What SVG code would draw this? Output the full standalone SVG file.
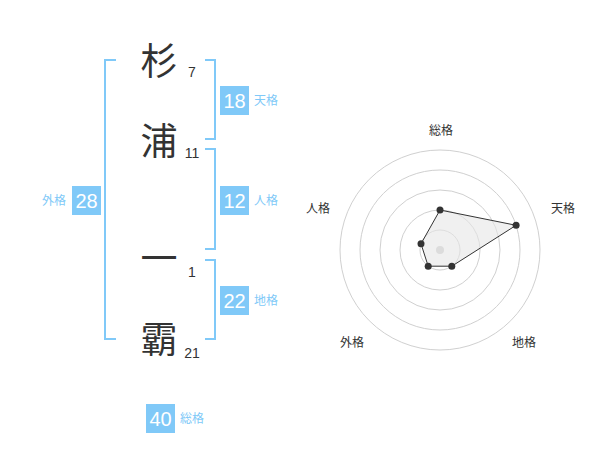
<svg xmlns="http://www.w3.org/2000/svg" width="600" height="470" viewBox="0 0 600 470">
<style>
.ch{font-family:"Noto Sans CJK JP","Noto Sans CJK SC",sans-serif;font-size:37px;fill:#333;text-anchor:middle}
.st{font-family:"Liberation Sans","Noto Sans",sans-serif;font-size:14px;fill:#333;text-anchor:middle}
.bx{fill:#80c9f8}
.bn{font-family:"Liberation Sans","Noto Sans",sans-serif;font-size:20px;fill:#fff;text-anchor:middle}
.bl{font-family:"Noto Sans CJK JP",sans-serif;font-size:12px;fill:#80c9f8}
.br{fill:none;stroke:#80c9f8;stroke-width:2}
.rg{fill:none;stroke:#d0d0d0;stroke-width:1}
.rl{font-family:"Noto Sans CJK JP",sans-serif;font-size:12px;fill:#333;text-anchor:middle}
.pt{fill:#333}
</style>
<rect width="600" height="470" fill="#fff"/>
<g id="connectors">
<path class="br" d="M116,60 H105 V339 H116"/>
<path class="br" d="M205,60 H215 V139 H205"/>
<path class="br" d="M205,149 H215 V249 H205"/>
<path class="br" d="M205,260 H215 V339 H205"/>
</g>
<g id="char1"><text class="ch" x="159" y="74.5">杉</text><text class="st" x="192" y="76.5">7</text></g>
<g id="char2"><text class="ch" x="159" y="154.5">浦</text><text class="st" x="192" y="158">11</text></g>
<g id="char3"><text class="ch" x="159" y="272">一</text><text class="st" x="192" y="277">1</text></g>
<g id="char4"><text class="ch" x="159" y="353">霸</text><text class="st" x="192" y="357.5">21</text></g>
<g id="tenkaku"><rect class="bx" x="220" y="86" width="29" height="29"/><text class="bn" x="234.5" y="107.5">18</text><text class="bl" x="254" y="105">天格</text></g>
<g id="jinkaku"><rect class="bx" x="220" y="186" width="29" height="29"/><text class="bn" x="234.5" y="207.5">12</text><text class="bl" x="254" y="205">人格</text></g>
<g id="chikaku"><rect class="bx" x="220" y="286" width="29" height="29"/><text class="bn" x="234.5" y="307.5">22</text><text class="bl" x="254" y="305">地格</text></g>
<g id="gaikaku"><rect class="bx" x="72" y="186" width="29" height="29"/><text class="bn" x="86.5" y="207.5">28</text><text class="bl" x="66" y="205" text-anchor="end">外格</text></g>
<g id="soukaku"><rect class="bx" x="146" y="404" width="29" height="29"/><text class="bn" x="160.5" y="425.5">40</text><text class="bl" x="180" y="423">総格</text></g>
<g id="radar">
<circle class="rg" cx="440" cy="250" r="20"/>
<circle class="rg" cx="440" cy="250" r="40"/>
<circle class="rg" cx="440" cy="250" r="60"/>
<circle class="rg" cx="440" cy="250" r="80"/>
<circle class="rg" cx="440" cy="250" r="100"/>
<circle cx="440" cy="250" r="4" fill="#ccc"/>
<polygon points="440,210 516.1,225.3 451.8,266.2 428.2,266.2 421,243.8" fill="#e6e6e6" fill-opacity="0.6" stroke="#333" stroke-width="1"/>
<circle class="pt" cx="440" cy="210" r="3.5"/>
<circle class="pt" cx="516.1" cy="225.3" r="3.5"/>
<circle class="pt" cx="451.8" cy="266.2" r="3.5"/>
<circle class="pt" cx="428.2" cy="266.2" r="3.5"/>
<circle class="pt" cx="421" cy="243.8" r="3.5"/>
<text class="rl" x="441" y="134.5">総格</text>
<text class="rl" x="563" y="212.5">天格</text>
<text class="rl" x="524" y="346.5">地格</text>
<text class="rl" x="352" y="346.5">外格</text>
<text class="rl" x="318" y="212.5">人格</text>
</g>
</svg>
